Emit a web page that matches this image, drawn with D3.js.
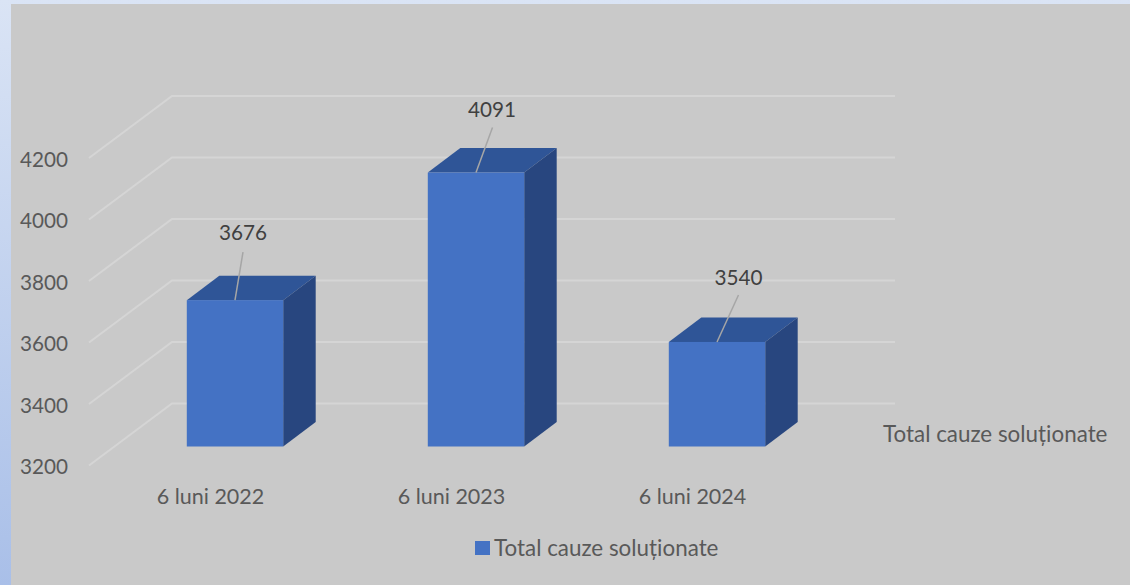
<!DOCTYPE html>
<html>
<head>
<meta charset="utf-8">
<script src="https://cdn.jsdelivr.net/npm/d3@7"></script>
<style>
  html, body { margin: 0; padding: 0; background: #c9c9c9; overflow: hidden; }
  text { font-family: Lato, "Open Sans", sans-serif; }
</style>
</head>
<body>
<svg id="chart"></svg>
<script>
const categories = ["6 luni 2022", "6 luni 2023", "6 luni 2024"];
const values = [3676, 4091, 3540];
const yTicks = [3200, 3400, 3600, 3800, 4000, 4200];
const seriesName = "Total cauze soluționate";

const W = 1130, H = 585;
const svg = d3.select("#chart").attr("width", W).attr("height", H).style("display", "block");

// Page background behind the grey chart area
const defs = svg.append("defs");
const grad = defs.append("linearGradient").attr("id", "pageBg")
  .attr("x1", 0).attr("y1", 0).attr("x2", 0).attr("y2", 1);
grad.append("stop").attr("offset", "0%").attr("stop-color", "#dae4f5");
grad.append("stop").attr("offset", "100%").attr("stop-color", "#a9bfe8");
svg.append("rect").attr("width", W).attr("height", H).attr("fill", "url(#pageBg)");
svg.append("rect").attr("x", 11).attr("y", 4).attr("width", W - 11).attr("height", H - 4).attr("fill", "#c9c9c9");

// Scales (front plane of the 3D box)
const x = d3.scaleBand().domain(categories).range([114.5, 837.5]).paddingInner(0.6).paddingOuter(0.3);
const yWall = d3.scaleLinear().domain([3200, 4200]).range([465.5, 158]);
const yBar = d3.scaleLinear().domain([3200, 4200]).range([446.5, 139]);

// 3D offsets
const wallDx = 83, wallDy = -62, wallX0 = 89, wallX1 = 895;
const depthDx = 32.5, depthDy = -24.5;

// Gridlines: diagonal on the side wall, then flat on the back wall
const grid = svg.append("g");
grid.selectAll("path").data(yTicks).join("path")
  .attr("d", d => `M${wallX0},${yWall(d)}L${wallX0 + wallDx},${yWall(d) + wallDy}L${wallX1},${yWall(d) + wallDy}`)
  .attr("fill", "none").attr("stroke", "#d5d5d5").attr("stroke-width", 2);

// Y tick labels
svg.append("g").selectAll("text").data(yTicks).join("text")
  .attr("x", 20).attr("y", d => yWall(d) + 8.5)
  .attr("font-size", 20.7).attr("fill", "#595959")
  .text(d => d);

// Bars
const bars = svg.append("g").selectAll("g").data(values).join("g");
bars.append("path") // top
  .attr("fill", "#2f5597")
  .attr("d", (d, i) => {
    const x0 = x(categories[i]), x1 = x0 + x.bandwidth(), y0 = yBar(d);
    return `M${x0},${y0}L${x0 + depthDx},${y0 + depthDy}L${x1 + depthDx},${y0 + depthDy}L${x1},${y0}Z`;
  });
bars.append("path") // side
  .attr("fill", "#28467f")
  .attr("d", (d, i) => {
    const x1 = x(categories[i]) + x.bandwidth(), y0 = yBar(d), y1 = yBar(3200);
    return `M${x1},${y0}L${x1 + depthDx},${y0 + depthDy}L${x1 + depthDx},${y1 + depthDy}L${x1},${y1}Z`;
  });
bars.append("rect") // front
  .attr("x", (d, i) => x(categories[i]))
  .attr("y", d => yBar(d))
  .attr("width", x.bandwidth())
  .attr("height", d => yBar(3200) - yBar(d))
  .attr("fill", "#4472c4");

// Data labels with leader lines (labels were dragged off the bars)
const labelOffsets = [[8, -67.5], [16, -62.5], [21.5, -63.5]];
const leaderEnds = [[8, -48], [16.5, -45], [21.5, -47]];
bars.append("line")
  .attr("x1", (d, i) => x(categories[i]) + x.bandwidth() / 2)
  .attr("y1", d => yBar(d))
  .attr("x2", (d, i) => x(categories[i]) + x.bandwidth() / 2 + leaderEnds[i][0])
  .attr("y2", (d, i) => yBar(d) + leaderEnds[i][1])
  .attr("stroke", "#a6a6a6").attr("stroke-width", 1.5);
bars.append("text")
  .attr("x", (d, i) => x(categories[i]) + x.bandwidth() / 2 + labelOffsets[i][0])
  .attr("y", (d, i) => yBar(d) + labelOffsets[i][1] + 7)
  .attr("text-anchor", "middle")
  .attr("font-size", 20.7).attr("fill", "#404040")
  .text(d => d);

// Category labels
svg.append("g").selectAll("text").data(categories).join("text")
  .attr("x", d => x(d) + x.bandwidth() / 2 - 24.5)
  .attr("y", 503.5)
  .attr("text-anchor", "middle")
  .attr("font-size", 21.5).attr("fill", "#595959")
  .text(d => d);

// Series axis label
svg.append("text").attr("x", 883).attr("y", 442)
  .attr("font-size", 22.4).attr("fill", "#595959")
  .text(seriesName);

// Legend
svg.append("rect").attr("x", 475).attr("y", 541).attr("width", 15).attr("height", 14).attr("fill", "#4472c4");
svg.append("text").attr("x", 494).attr("y", 556)
  .attr("font-size", 22.4).attr("fill", "#595959")
  .text(seriesName);
</script>
</body>
</html>
